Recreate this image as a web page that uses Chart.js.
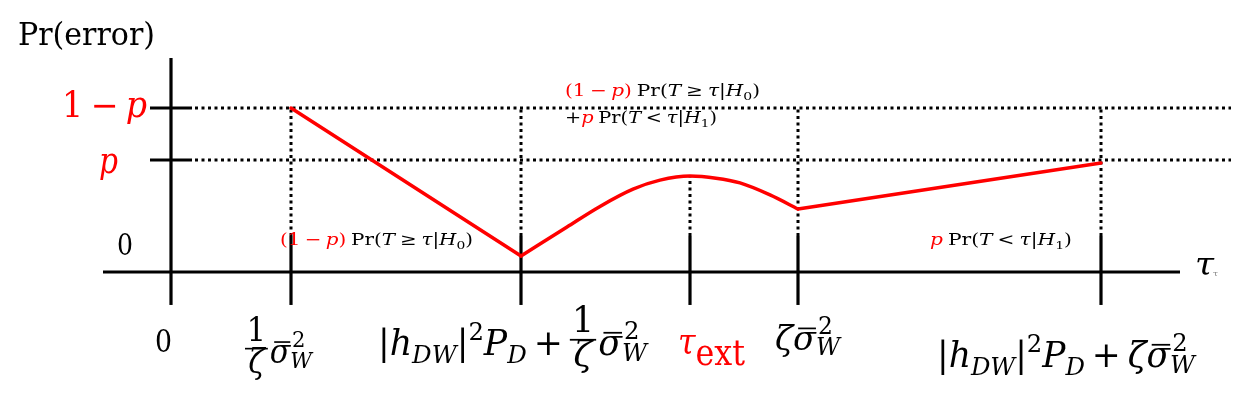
<!DOCTYPE html>
<html><head><meta charset="utf-8">
<script src="https://cdn.jsdelivr.net/npm/chart.js@4.4.0/dist/chart.umd.min.js"></script>
<style>html,body{margin:0;padding:0;background:#fff;}canvas{display:block}</style>
</head><body>
<canvas id="c" width="1233" height="405"></canvas>
<script>
// ---------- data (abstract units: x = threshold tau, y = Pr(error); 1-p level = 1) ----------
const tickPositions = [1.2, 3.5, 5.19, 6.27, 9.3];          // marked thresholds on tau axis
const levelOneMinusP = 1.0;
const levelP = 0.683;
const dottedGuideTop = [1.0, 1.0, 0.585, 1.0, 1.0];          // top of dotted guide at each threshold
const leftSegX = [1.2, 3.5];
const leftSegY = [1.0, 0.098];
const midCurveX = [3.5, 3.96, 4.29, 4.62, 4.89, 5.19, 5.45, 5.69, 5.99, 6.27];
const midCurveY = [0.098, 0.275, 0.40, 0.505, 0.56, 0.585, 0.572, 0.543, 0.47, 0.384];
const rightSegX = [6.27, 9.3];
const rightSegY = [0.384, 0.665];

// ---------- layout constants ----------
const X_MIN = -1.71, X_MAX = 10.62, Y_MIN = -0.811, Y_MAX = 1.6585;
const AXIS_X_FROM = -0.68, AXIS_X_TO = 10.09;
const AXIS_Y_FROM = -0.201, AXIS_Y_TO = 1.305;
const TICK_SOLID_TOP = 0.22, TICK_BOTTOM = -0.201;
const YTICK_FROM = -0.21, YTICK_TO = 0.21;
const GUIDE_H_FROM = 0.24, GUIDE_H_TO = 10.6;

const RED = '#ff0000', INK = '#000000';
const FONT = '"DejaVu Serif", "Liberation Serif", serif';

// ---------- rich text helpers ----------
const t = (s, o = {}) => Object.assign({k: 't', s}, o);
const sup = (s, o = {}) => Object.assign({k: 't', s, sc: 0.7, dy: -0.42}, o);
const sub = (s, o = {}) => Object.assign({k: 't', s, sc: 0.7, dy: 0.22}, o);
const ss = (a, b, o = {}) => Object.assign({k: 'ss', a, b}, o);
const fr = (a, b, o = {}) => Object.assign({k: 'fr', a, b}, o);
const bar = (s, o = {}) => Object.assign({k: 'bar', s}, o);
const sp = (w) => ({k: 'sp', w});
const I = {i: 1};
const IR = {i: 1, c: RED};
const R = {c: RED};

const prGe = [t('Pr('), t('T', I), sp(.25), t('≥'), sp(.25), t('τ', I), t('|'), t('H', I), sub('0'), t(')')];
const prLt = [t('Pr('), t('T', I), sp(.25), t('<'), sp(.25), t('τ', I), t('|'), t('H', I), sub('1'), t(')')];
const oneMinusPParen = [t('(1', R), sp(.22), t('−', R), sp(.22), t('p', IR), t(')', R), sp(.25)];
const sigmaW = [bar('σ', I), ss('2', 'W', {bi: 1})];
const hdwPd = [t('|'), t('h', I), sub('DW', I), t('|'), sup('2'), t('P', I), sub('D', I), sp(.2), t('+'), sp(.2)];

// tick labels: runs + placement (left px, baseline px, width px, font px)
const yTickLabels = [
  {runs: [t('1', R), sp(.22), t('−', R), sp(.22), t('p', IR)], left: 62, base: 117, w: 85, size: 35},
  {runs: [t('p', IR)], left: 99, base: 173, w: 19, size: 35},
  {runs: [t('0')], left: 117, base: 255, w: 16, size: 30}
];
const xTickLabels = [
  {runs: [t('0')], left: 155, base: 352, w: 17, size: 32},
  {runs: [fr('1', 'ζ', {bi: 1}), ...sigmaW], left: 245, base: 363, w: 67, size: 33},
  {runs: [...hdwPd, fr('1', 'ζ', {bi: 1}), ...sigmaW], left: 378, base: 355, w: 269, size: 35},
  {runs: [t('τ', IR), t('ext', {c: RED, dy: 0.3})], left: 678, base: 354, w: 67, size: 35},
  {runs: [t('ζ', I), ...sigmaW], left: 775, base: 350, w: 65, size: 34},
  {runs: [...hdwPd, t('ζ', I), ...sigmaW], left: 937, base: 367, w: 258, size: 35}
];
const otherLabels = [
  {runs: [t('Pr(error)')], left: 18, base: 45, w: 137, size: 31},
  {runs: [t('τ', I)], left: 1195, base: 275, w: 19, size: 32},
  {runs: [t('τ', {c: '#888'})], left: 1213, base: 276, w: 5, size: 8},
  {runs: [...oneMinusPParen, ...prGe], left: 565, base: 96, w: 195, size: 16.5},
  {runs: [t('+'), t('p', IR), sp(.25), ...prLt], left: 565, base: 123, w: 152, size: 16.5},
  {runs: [...oneMinusPParen, ...prGe], left: 280, base: 245, w: 193, size: 16.5},
  {runs: [t('p', IR), sp(.25), ...prLt], left: 930, base: 245, w: 142, size: 16.5}
];

function fontOf(sz, it) { return (it ? 'italic ' : '') + sz + 'px ' + FONT; }

function layout(ctx, runs, S, x0, y0, draw) {
  let x = x0;
  for (const r of runs) {
    const col = r.c || INK;
    if (r.k === 'sp') { x += r.w * S; continue; }
    if (r.k === 't' || r.k === 'bar') {
      const sz = S * (r.sc || 1);
      ctx.font = fontOf(sz, r.i);
      const w = ctx.measureText(r.s).width;
      if (draw) {
        ctx.fillStyle = col;
        ctx.fillText(r.s, x, y0 + (r.dy || 0) * S);
        if (r.k === 'bar') ctx.fillRect(x + w * 0.22, y0 - S * 0.66, w * 0.78, Math.max(1, S * 0.05));
      }
      x += w;
      continue;
    }
    if (r.k === 'ss') {
      const sz = S * 0.7;
      ctx.font = fontOf(sz, r.ai); const wa = ctx.measureText(r.a).width;
      ctx.font = fontOf(sz, r.bi); const wb = ctx.measureText(r.b).width;
      if (draw) {
        ctx.fillStyle = col;
        ctx.font = fontOf(sz, r.ai); ctx.fillText(r.a, x + 0.06 * S, y0 - 0.47 * S);
        ctx.font = fontOf(sz, r.bi); ctx.fillText(r.b, x, y0 + 0.16 * S);
      }
      x += Math.max(wa + 0.06 * S, wb);
      continue;
    }
    if (r.k === 'fr') {
      ctx.font = fontOf(S, r.ai); const wa = ctx.measureText(r.a).width;
      ctx.font = fontOf(S, r.bi); const wb = ctx.measureText(r.b).width;
      const w = Math.max(wa, wb) + 0.12 * S;
      if (draw) {
        const barY = y0 - 0.46 * S;
        ctx.fillStyle = col;
        ctx.fillRect(x, barY, w, Math.max(1.5, S * 0.05));
        ctx.font = fontOf(S, r.ai); ctx.fillText(r.a, x + (w - wa) / 2, barY - 0.2 * S);
        ctx.font = fontOf(S, r.bi); ctx.fillText(r.b, x + (w - wb) / 2, barY + 0.76 * S);
      }
      x += w + 0.06 * S;
      continue;
    }
  }
  return x - x0;
}

const richText = {
  id: 'richText',
  afterDraw(chart) {
    const ctx = chart.ctx;
    ctx.textBaseline = 'alphabetic';
    ctx.textAlign = 'left';
    for (const L of [...yTickLabels, ...xTickLabels, ...otherLabels]) {
      const natural = layout(ctx, L.runs, L.size, 0, 0, false);
      const sx = L.w / natural;
      ctx.save();
      ctx.translate(L.left, L.base);
      ctx.scale(sx, 1);
      layout(ctx, L.runs, L.size, 0, 0, true);
      ctx.restore();
    }
  }
};

// ---------- datasets ----------
const pts = (xs, ys) => xs.map((x, i) => ({x, y: ys[i]}));
const base = {showLine: true, pointRadius: 0, pointHoverRadius: 0, fill: false, borderCapStyle: 'butt'};
const solid = (data, extra = {}) => Object.assign({}, base, {data, borderColor: INK, borderWidth: 3.2, tension: 0, order: 1}, extra);
const dotted = (data) => Object.assign({}, base, {data, borderColor: INK, borderWidth: 3, borderDash: [3, 3.5], tension: 0, order: 2});
const redLine = (data, smooth) => Object.assign({}, base, {
  data, borderColor: RED, borderWidth: 3.5, order: 0, borderJoinStyle: 'round', borderCapStyle: 'round',
  tension: smooth ? 0.4 : 0, cubicInterpolationMode: smooth ? 'monotone' : 'default'
});

const datasets = [
  redLine(pts(leftSegX, leftSegY), false),
  redLine(pts(midCurveX, midCurveY), true),
  redLine(pts(rightSegX, rightSegY), false),
  solid([{x: AXIS_X_FROM, y: 0}, {x: AXIS_X_TO, y: 0}]),
  solid([{x: 0, y: AXIS_Y_FROM}, {x: 0, y: AXIS_Y_TO}]),
  solid([{x: YTICK_FROM, y: levelOneMinusP}, {x: YTICK_TO, y: levelOneMinusP}]),
  solid([{x: YTICK_FROM, y: levelP}, {x: YTICK_TO, y: levelP}]),
  ...tickPositions.map(x => solid([{x, y: TICK_BOTTOM}, {x, y: TICK_SOLID_TOP}])),
  ...tickPositions.map((x, i) => dotted([{x, y: TICK_SOLID_TOP}, {x, y: dottedGuideTop[i]}])),
  dotted([{x: GUIDE_H_FROM, y: levelOneMinusP}, {x: GUIDE_H_TO, y: levelOneMinusP}]),
  dotted([{x: GUIDE_H_FROM, y: levelP}, {x: GUIDE_H_TO, y: levelP}])
];

new Chart(document.getElementById('c'), {
  type: 'scatter',
  data: {datasets},
  options: {
    responsive: false,
    devicePixelRatio: 1,
    animation: false,
    layout: {padding: 0},
    plugins: {legend: {display: false}, tooltip: {enabled: false}, title: {display: false}},
    events: [],
    scales: {
      x: {type: 'linear', min: X_MIN, max: X_MAX, display: false},
      y: {type: 'linear', min: Y_MIN, max: Y_MAX, display: false}
    }
  },
  plugins: [richText]
});
</script>
</body></html>
